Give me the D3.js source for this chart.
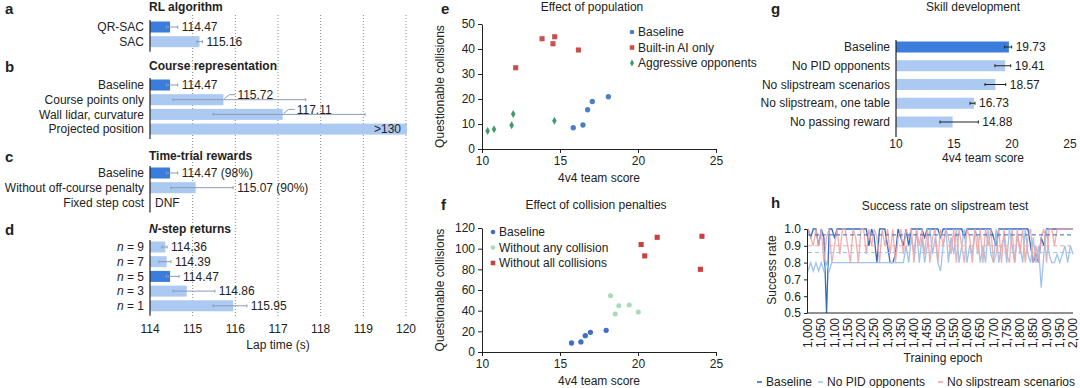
<!DOCTYPE html>
<html>
<head>
<meta charset="utf-8">
<script src="https://cdn.jsdelivr.net/npm/d3@7"></script>
<style>
    body { margin: 0; background: #fff; }
    svg { font-family: "Liberation Sans", Arial, sans-serif; font-size: 12px; }
    text { fill: #222; }
</style>
</head>
<body>
<svg id="fig" width="1080" height="388"></svg>
<script>
// ---- data: a-d lap times ----
const rlNames = ["QR-SAC", "SAC"];
const rlTimes = [114.47, 115.16];
const rlLow = [114.38, 115.1];
const rlHigh = [114.65, 115.23];
const rlLabels = ["114.47", "115.16"];

const courseNames = ["Baseline", "Course points only", "Wall lidar, curvature", "Projected position"];
const courseTimes = [114.47, 115.72, 117.11, 130];
const courseLow = [114.38, 114.54, 115.48, null];
const courseHigh = [114.65, 117.65, 119.04, null];
const courseLabels = ["114.47", "115.72", "117.11", ">130"];

const rewardNames = ["Baseline", "Without off-course penalty", "Fixed step cost"];
const rewardTimes = [114.47, 115.07, null];
const rewardLow = [114.38, 114.49, null];
const rewardHigh = [114.65, 115.95, null];
const rewardLabels = ["114.47 (98%)", "115.07 (90%)", "DNF"];

const nstepNames = ["9", "7", "5", "3", "1"];
const nstepTimes = [114.36, 114.39, 114.47, 114.86, 115.95];
const nstepLow = [114.28, 114.21, 114.38, 114.54, 115.48];
const nstepHigh = [114.4, 114.49, 114.68, 115.52, 116.27];
const nstepLabels = ["114.36", "114.39", "114.47", "114.86", "115.95"];

const lapTicks = [114, 115, 116, 117, 118, 119, 120];

// ---- data: e ----
const eBaseX = [15.85, 16.47, 16.77, 17.07, 18.1];
const eBaseY = [8.5, 9.6, 15.7, 19, 20.9];
const eAiX = [12.16, 13.85, 14.55, 14.66, 16.18];
const eAiY = [32.5, 44.1, 42.1, 44.9, 39.6];
const eAggX = [10.36, 10.77, 11.9, 12.0, 14.64];
const eAggY = [7.2, 7.9, 9.5, 14, 11.3];

// ---- data: f ----
const fBaseX = [15.74, 16.34, 16.62, 16.95, 17.96];
const fBaseY = [8.7, 9.7, 15.8, 19, 21];
const fAnyX = [18.24, 18.54, 18.77, 19.44, 20.02];
const fAnyY = [54.5, 36.8, 44.8, 45.5, 38.7];
const fAllX = [20.2, 20.43, 21.23, 24.1, 24.0];
const fAllY = [104, 93, 111, 112, 80];

// ---- data: g ----
const skillNames = ["Baseline", "No PID opponents", "No slipstream scenarios", "No slipstream, one table", "No passing reward"];
const skillScores = [19.73, 19.41, 18.57, 16.73, 14.88];
const skillLow = [19.35, 18.53, 17.67, 16.38, 13.79];
const skillHigh = [19.97, 19.89, 19.46, 16.81, 17.1];

// ---- data: h ----
const hEpochs = d3.range(1000, 2001, 10);
const hBaseline = [
    1.0, 0.95, 1.0, 1.0, 0.9, 1.0, 0.95, 0.5, 1.0, 1.0,
    0.95, 1.0, 1.0, 1.0, 1.0, 1.0, 1.0, 1.0, 1.0, 1.0,
    1.0, 1.0, 1.0, 0.9, 1.0, 0.95, 0.8, 1.0, 1.0, 1.0,
    0.9, 0.8, 0.8, 0.85, 1.0, 0.95, 0.9, 1.0, 0.9, 1.0,
    1.0, 1.0, 1.0, 1.0, 0.95, 1.0, 1.0, 1.0, 1.0, 1.0,
    0.95, 1.0, 1.0, 1.0, 1.0, 1.0, 1.0, 1.0, 1.0, 0.95,
    1.0, 1.0, 1.0, 1.0, 1.0, 1.0, 1.0, 1.0, 1.0, 1.0,
    0.95, 0.9, 1.0, 1.0, 1.0, 1.0, 1.0, 1.0, 1.0, 1.0,
    1.0, 1.0, 1.0, 1.0, 0.9, 0.8, 0.85, 0.8, 0.95, 0.9,
    1.0, 1.0, 1.0, 1.0, 1.0, 1.0, 1.0, 1.0, 1.0, 1.0,
    1.0
];
const hNoPid = [
    0.75, 0.8, 0.75, 0.8, 0.75, 0.8, 0.75, 0.8, 0.75, 0.8,
    0.8, 0.8, 0.8, 0.8, 0.8, 0.8, 0.8, 0.8, 0.8, 0.8,
    0.8, 0.8, 0.8, 0.8, 0.8, 0.8, 0.8, 0.8, 0.8, 0.8,
    0.8, 0.8, 0.8, 0.8, 0.8, 0.8, 0.8, 0.9, 0.8, 0.95,
    0.85, 1.0, 0.8, 0.95, 0.8, 0.9, 1.0, 0.85, 0.95, 0.8,
    0.75, 0.9, 1.0, 0.8, 0.95, 0.85, 1.0, 0.8, 0.9, 1.0,
    0.8, 0.9, 0.85, 1.0, 0.95, 0.8, 0.9, 0.8, 1.0, 0.85,
    0.8, 1.0, 0.8, 0.9, 0.95, 0.8, 1.0, 0.9, 0.8, 0.95,
    0.9, 0.8, 1.0, 0.85, 0.8, 0.95, 0.8, 0.9, 0.65, 0.85,
    1.0, 0.85, 0.8, 0.8, 0.85, 0.8, 0.85, 0.9, 0.8, 0.9,
    0.85
];
const hNoSlip = [
    1.0, 0.95, 0.9, 1.0, 0.9, 1.0, 0.8, 0.95, 1.0, 0.8,
    0.9, 1.0, 0.85, 1.0, 1.0, 0.9, 0.8, 1.0, 0.95, 0.8,
    1.0, 1.0, 0.85, 1.0, 0.9, 1.0, 0.95, 0.8, 1.0, 0.9,
    1.0, 0.85, 1.0, 0.8, 0.95, 1.0, 0.85, 1.0, 0.95, 1.0,
    0.8, 1.0, 0.9, 1.0, 0.85, 1.0, 0.8, 0.95, 1.0, 0.8,
    1.0, 0.9, 1.0, 0.95, 0.85, 1.0, 0.8, 1.0, 0.9, 0.8,
    1.0, 0.95, 0.8, 1.0, 0.85, 1.0, 0.8, 1.0, 0.9, 1.0,
    0.8, 0.85, 1.0, 0.8, 1.0, 0.85, 0.8, 1.0, 0.8, 1.0,
    0.85, 1.0, 0.8, 0.95, 1.0, 0.8, 0.9, 0.8, 0.95, 1.0,
    0.8, 1.0, 1.0, 0.9, 1.0, 1.0, 1.0, 1.0, 1.0, 1.0,
    1.0
];
const hMeans = [0.965, 0.86, 0.90];
const hNames = ["Baseline", "No PID opponents", "No slipstream scenarios"];

// ---- colours ----
const darkBlue = "#3a7ddc";
const lightBlue = "#abc9f1";
const errGrey = "#8a9bb5";

const svg = d3.select("#fig");

function panelLetter(x, y, letter) {
    svg.append("text").attr("x", x).attr("y", y).attr("dy", "0.35em")
        .style("font-weight", "bold").style("font-size", "15px").text(letter);
}

// ================= a-d =================
const lapX = d3.scaleLinear().domain([114, 120]).range([150, 406]);
const rowStep = 14.7;
const barH = 11;

const lapPanels = [
    {letter: "a", title: "RL algorithm", names: rlNames, times: rlTimes, low: rlLow, high: rlHigh, labels: rlLabels, base: 0, titleY: 7, firstY: 27},
    {letter: "b", title: "Course representation", names: courseNames, times: courseTimes, low: courseLow, high: courseHigh, labels: courseLabels, base: 0, titleY: 66, firstY: 85},
    {letter: "c", title: "Time-trial rewards", names: rewardNames, times: rewardTimes, low: rewardLow, high: rewardHigh, labels: rewardLabels, base: 0, titleY: 156, firstY: 173},
    {letter: "d", title: "N-step returns", names: nstepNames, times: nstepTimes, low: nstepLow, high: nstepHigh, labels: nstepLabels, base: 2, titleY: 229, firstY: 247}
];

const lapG = svg.append("g");

// dotted grid
lapG.selectAll(".grid").data(lapTicks.slice(1)).enter().append("line")
    .attr("x1", d => lapX(d)).attr("x2", d => lapX(d))
    .attr("y1", 15).attr("y2", 318)
    .attr("stroke", "#888").attr("stroke-width", 1).attr("stroke-dasharray", "1,2");

lapPanels.forEach(p => {
    panelLetter(5, Math.max(p.titleY + 1, 9), p.letter);
    const t = lapG.append("text").attr("x", lapX(114) - 1).attr("y", p.titleY).attr("dy", "0.35em")
        .style("font-weight", "bold");
    if (p.letter === "d") {
        t.append("tspan").style("font-style", "italic").text("N");
        t.append("tspan").text("-step returns");
    } else {
        t.text(p.title);
    }

    const ys = p.names.map((_, i) => p.firstY + i * rowStep);

    p.names.forEach((name, i) => {
        const cy = ys[i];
        const lbl = lapG.append("text").attr("x", lapX(114) - 6).attr("y", cy).attr("dy", "0.35em")
            .attr("text-anchor", "end");
        if (p.letter === "d") {
            lbl.append("tspan").style("font-style", "italic").text("n");
            lbl.append("tspan").text(" = " + name);
        } else {
            lbl.text(name);
        }

        const v = p.times[i];
        if (v == null) {
            lapG.append("text").attr("x", lapX(114) + 5).attr("y", cy).attr("dy", "0.35em").text(p.labels[i]);
            return;
        }
        const fill = i === p.base ? darkBlue : lightBlue;
        const end = v > 120 ? lapX(120) + 1 : lapX(v);
        lapG.append("rect").attr("x", lapX(114)).attr("y", cy - barH / 2)
            .attr("width", end - lapX(114)).attr("height", barH).attr("fill", fill);

        if (v > 120) {
            lapG.append("text").attr("x", end - 6).attr("y", cy).attr("dy", "0.35em")
                .attr("text-anchor", "end").text(p.labels[i]);
            return;
        }
        const lo = lapX(p.low[i]), hi = lapX(p.high[i]);
        lapG.append("line").attr("x1", lo).attr("x2", hi).attr("y1", cy).attr("y2", cy)
            .attr("stroke", errGrey).attr("stroke-width", 1);
        [lo, hi].forEach(xx => lapG.append("line").attr("x1", xx).attr("x2", xx)
            .attr("y1", cy - 1.5).attr("y2", cy + 1.5).attr("stroke", errGrey));

        if (p.high[i] - v > 1) {
            // long whisker: label sits above, hooked to the bar end
            lapG.append("path")
                .attr("d", `M${end + 1},${cy - 1}L${end + 6},${cy - 5}L${end + 12},${cy - 5}`)
                .attr("fill", "none").attr("stroke", errGrey);
            lapG.append("text").attr("x", end + 14).attr("y", cy - 5).attr("dy", "0.35em").text(p.labels[i]);
        } else {
            lapG.append("text").attr("x", hi + 4).attr("y", cy).attr("dy", "0.35em").text(p.labels[i]);
        }
    });

    lapG.append("line").attr("x1", lapX(114)).attr("x2", lapX(114))
        .attr("y1", ys[0] - 7).attr("y2", ys[ys.length - 1] + 10)
        .attr("stroke", "#222").attr("stroke-width", 1.2);
});

lapG.selectAll(".lt").data(lapTicks).enter().append("text")
    .attr("x", d => lapX(d)).attr("y", 329).attr("dy", "0.35em").attr("text-anchor", "middle").text(d => d);
lapG.append("text").attr("x", lapX(117)).attr("y", 345).attr("dy", "0.35em")
    .attr("text-anchor", "middle").text("Lap time (s)");

// ================= helpers for scatter =================
function styleAxis(g) {
    g.selectAll("path, line").attr("stroke", "#222");
    g.selectAll("text").style("font-size", "12px").style("font-family", "inherit").attr("fill", "#222");
}

function scatterPanel(opt) {
    const x = d3.scaleLinear().domain([10, 25]).range([482, 716]);
    const y = d3.scaleLinear().domain(opt.yDomain).range(opt.yRange);
    const g = svg.append("g");

    panelLetter(441, Math.max(opt.titleY, 9), opt.letter);
    g.append("text").attr("x", opt.titleX).attr("y", opt.titleY).attr("dy", "0.35em")
        .attr("text-anchor", "middle").text(opt.title);

    g.append("g").attr("transform", `translate(0,${opt.yRange[0]})`)
        .call(d3.axisBottom(x).tickValues([10, 15, 20, 25]).tickSize(4).tickSizeOuter(0))
        .call(styleAxis);
    g.append("g").attr("transform", `translate(${x(10)},0)`)
        .call(d3.axisLeft(y).tickValues(opt.yTicks).tickSize(4).tickSizeOuter(0))
        .call(styleAxis);

    g.append("text").attr("transform", `translate(440,${(opt.yRange[0] + opt.yRange[1]) / 2}) rotate(-90)`)
        .attr("text-anchor", "middle").attr("dy", "0.35em").text("Questionable collisions");
    g.append("text").attr("x", 599).attr("y", opt.yRange[0] + 29).attr("dy", "0.35em")
        .attr("text-anchor", "middle").text("4v4 team score");

    opt.series.forEach((s, k) => {
        const sym = d3.symbol().type(s.shape).size(s.size);
        g.selectAll(null).data(s.xs).enter().append("path")
            .attr("d", sym)
            .attr("transform", (d, i) => `translate(${x(d)},${y(s.ys[i])})`)
            .attr("fill", s.color);
        const ly = opt.legendY + k * 15.5;
        g.append("path").attr("d", d3.symbol().type(s.shape).size(s.size * 0.8))
            .attr("transform", `translate(${opt.legendX},${ly})`).attr("fill", s.color);
        g.append("text").attr("x", opt.legendX + 6).attr("y", ly).attr("dy", "0.35em").text(s.name);
    });
}

// ================= e =================
scatterPanel({
    letter: "e", title: "Effect of population", titleX: 592, titleY: 7,
    yDomain: [0, 50], yRange: [149, 24], yTicks: [0, 10, 20, 30, 40, 50],
    legendX: 632, legendY: 32,
    series: [
        {name: "Baseline", xs: eBaseX, ys: eBaseY, color: "#4a7fc2", shape: d3.symbolCircle, size: 22},
        {name: "Built-in AI only", xs: eAiX, ys: eAiY, color: "#c9504a", shape: d3.symbolSquare, size: 26},
        {name: "Aggressive opponents", xs: eAggX, ys: eAggY, color: "#3f9b6c", shape: d3.symbolDiamond, size: 18}
    ]
});

// ================= f =================
scatterPanel({
    letter: "f", title: "Effect of collision penalties", titleX: 596, titleY: 205,
    yDomain: [0, 120], yRange: [352, 228], yTicks: [0, 20, 40, 60, 80, 100, 120],
    legendX: 493, legendY: 232,
    series: [
        {name: "Baseline", xs: fBaseX, ys: fBaseY, color: "#3f6fc2", shape: d3.symbolCircle, size: 22},
        {name: "Without any collision", xs: fAnyX, ys: fAnyY, color: "#a7dbb7", shape: d3.symbolCircle, size: 20},
        {name: "Without all collisions", xs: fAllX, ys: fAllY, color: "#cc3f3f", shape: d3.symbolSquare, size: 26}
    ]
});

// ================= g =================
const gX = d3.scaleLinear().domain([10, 25]).range([896, 1070]);
const gStep = 18.75;
const gG = svg.append("g");
panelLetter(771, 9, "g");
gG.append("text").attr("x", 973).attr("y", 7).attr("dy", "0.35em").attr("text-anchor", "middle").text("Skill development");

skillNames.forEach((name, i) => {
    const cy = 47 + i * gStep;
    gG.append("text").attr("x", 890).attr("y", cy).attr("dy", "0.35em").attr("text-anchor", "end").text(name);
    gG.append("rect").attr("x", gX(10)).attr("y", cy - 5.5).attr("width", gX(skillScores[i]) - gX(10))
        .attr("height", 11).attr("fill", i === 0 ? darkBlue : lightBlue);
    const lo = gX(skillLow[i]), hi = gX(skillHigh[i]);
    gG.append("line").attr("x1", lo).attr("x2", hi).attr("y1", cy).attr("y2", cy).attr("stroke", "#222");
    [lo, hi].forEach(xx => gG.append("line").attr("x1", xx).attr("x2", xx)
        .attr("y1", cy - 1.5).attr("y2", cy + 1.5).attr("stroke", "#222"));
    gG.append("text").attr("x", hi + 4).attr("y", cy).attr("dy", "0.35em").text(skillScores[i].toFixed(2));
});
gG.append("line").attr("x1", gX(10)).attr("x2", gX(10)).attr("y1", 40).attr("y2", 137)
    .attr("stroke", "#222").attr("stroke-width", 1.2);
gG.selectAll(".gt").data([10, 15, 20, 25]).enter().append("text")
    .attr("x", d => gX(d)).attr("y", 144).attr("dy", "0.35em").attr("text-anchor", "middle").text(d => d);
gG.append("text").attr("x", 983).attr("y", 158).attr("dy", "0.35em").attr("text-anchor", "middle").text("4v4 team score");

// ================= h =================
const hX = d3.scaleLinear().domain([1000, 2000]).range([808, 1073]);
const hY = d3.scaleLinear().domain([0.5, 1.0]).range([313, 229]);
const hColors = ["#2f6cc6", "#9fc4ec", "#efa5a5"];
const hSeries = [hBaseline, hNoPid, hNoSlip];
const hG = svg.append("g");
panelLetter(771, 203, "h");
hG.append("text").attr("x", 945).attr("y", 206).attr("dy", "0.35em").attr("text-anchor", "middle")
    .text("Success rate on slipstream test");

const line = d3.line().x((d, i) => hX(hEpochs[i])).y(d => hY(d));
[0, 1, 2].forEach(k => {
    hG.append("path").datum(hSeries[k]).attr("d", line)
        .attr("fill", "none").attr("stroke", hColors[k]).attr("stroke-width", 1.3)
        .attr("stroke-opacity", k === 2 ? 0.9 : 1);
});
hMeans.forEach((m, k) => {
    hG.append("line").attr("x1", hX(1000)).attr("x2", hX(2000)).attr("y1", hY(m)).attr("y2", hY(m))
        .attr("stroke", hColors[k]).attr("stroke-width", 1).attr("stroke-dasharray", "4,3");
});

hG.append("g").attr("transform", `translate(${hX(1000) - 1},0)`)
    .call(d3.axisLeft(hY).tickValues([0.5, 0.6, 0.7, 0.8, 0.9, 1.0]).tickFormat(d3.format(".1f")).tickSize(3).tickSizeOuter(0))
    .call(styleAxis);
hG.append("line").attr("x1", hX(1000) - 1).attr("x2", hX(2000)).attr("y1", hY(0.5)).attr("y2", hY(0.5))
    .attr("stroke", "#222");
const hTicks = d3.range(1000, 2001, 50);
hG.selectAll(".ht").data(hTicks).enter().append("text")
    .attr("transform", d => `translate(${hX(d)},318) rotate(-90)`)
    .attr("text-anchor", "end").attr("dy", "0.35em").text(d3.format(","));
hG.append("text").attr("transform", `translate(772,270) rotate(-90)`).attr("text-anchor", "middle")
    .attr("dy", "0.35em").text("Success rate");
hG.append("text").attr("x", 943).attr("y", 358).attr("dy", "0.35em").attr("text-anchor", "middle").text("Training epoch");

const legendXs = [757, 818, 938];
hNames.forEach((n, k) => {
    hG.append("line").attr("x1", legendXs[k]).attr("x2", legendXs[k] + 5).attr("y1", 382).attr("y2", 382)
        .attr("stroke", hColors[k]).attr("stroke-width", 1.6);
    hG.append("text").attr("x", legendXs[k] + 9).attr("y", 382).attr("dy", "0.35em").text(n);
});
</script>
</body>
</html>
